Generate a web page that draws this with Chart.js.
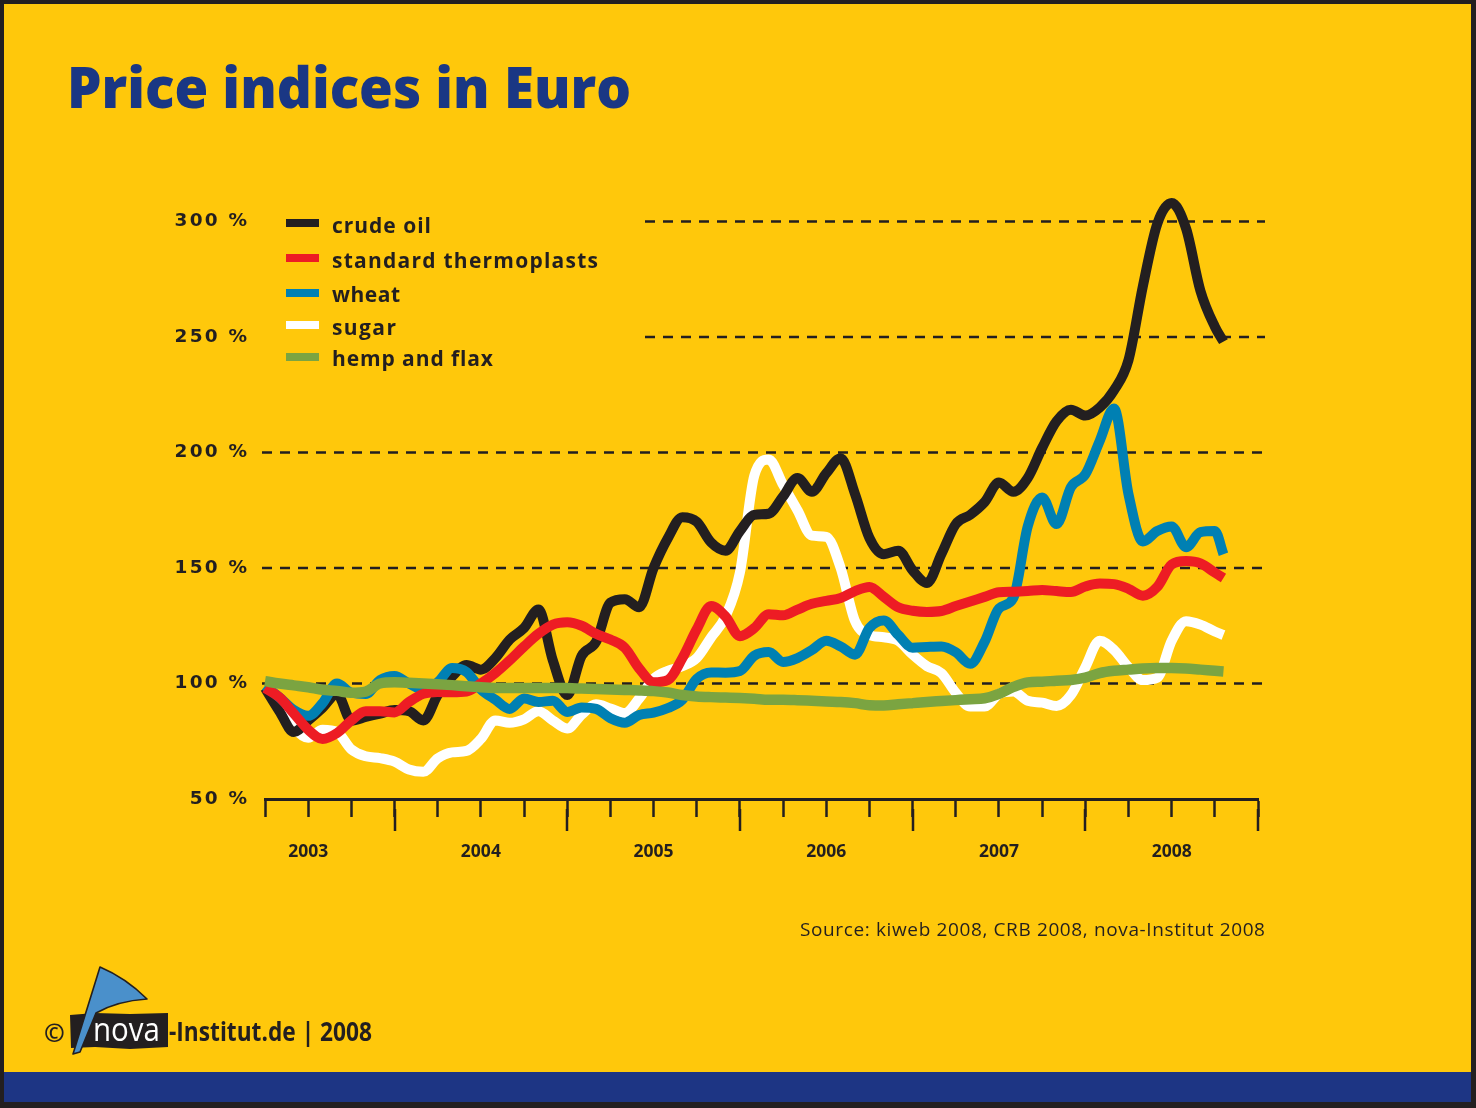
<!DOCTYPE html>
<html>
<head>
<meta charset="utf-8">
<title>Price indices in Euro</title>
<script src="https://cdn.jsdelivr.net/npm/chart.js@4.4.1/dist/chart.umd.min.js"></script>
<style>
html,body{margin:0;padding:0;background:#231f20;width:1476px;height:1108px;overflow:hidden;}
#page{position:absolute;left:0;top:0;width:1476px;height:1108px;background:#231f20;}
#yellow{position:absolute;left:4px;top:4px;width:1467px;height:1068px;background:#FFC80B;}
#navy{position:absolute;left:4px;top:1072px;width:1467px;height:30px;background:#1D3584;}
#chart{position:absolute;left:0;top:0;}
.txt{position:absolute;white-space:nowrap;line-height:1;margin:0;left:0;top:0;}
#title{font-family:'Open Sans';font-weight:800;font-size:57px;color:#1A3784;}
.leg{font-family:'Open Sans';font-weight:700;font-size:21px;color:#231f20;}
.sw{position:absolute;width:33px;height:8px;}
#source{font-family:'Open Sans';font-weight:400;font-size:19px;color:#231f20;}
.foot{font-family:'Open Sans';font-weight:700;color:#231f20;}
#logo{position:absolute;left:0;top:950px;}
</style>
</head>
<body>
<div id="page">
  <div id="yellow"></div>
  <div id="navy"></div>
  <canvas id="chart" width="1476" height="1108"></canvas>
  <div id="title" class="txt">Price indices in Euro</div>
  <div id="legend"></div>
  <div id="source" class="txt">Source: kiweb 2008, CRB 2008, nova-Institut 2008</div>
  <svg id="logo" width="200" height="120" viewBox="0 950 200 120">
    <polygon points="70,1015 95,1013 130,1014 168,1013 168,1047 130,1049 95,1047 71,1048" fill="#231f20"/>
    <path d="M73,1054 L100,967 Q126,978 147,999 Q117,1001 96,1013 L80,1052 Z" fill="#4A90CB" stroke="#231f20" stroke-width="1.6" stroke-linejoin="round"/>
  </svg>
  <div id="copy" class="txt foot" style="font-size:25px">©</div>
  <div id="nova" class="txt" style="font-family:'Open Sans';font-weight:400;font-size:32px;color:#ffffff">nova</div>
  <div id="inst" class="txt foot" style="font-size:27px">-Institut.de | 2008</div>
</div>
<script>
// ---------- data ----------
const months = Array.from({length: 67}, (_, i) => i).concat([66.6]); // months since Jan 2003
const seriesNames = ['crude oil', 'standard thermoplasts', 'wheat', 'sugar', 'hemp and flax'];
const crudeOil = [98,88,79,84,89.5,95.5,84,85.5,87,88.5,88,84,95,103,108,106,111,119,124,132,110,95,112,118,135,136.5,133,150,163,172,170,161,157.5,166,173,173.5,181,189,183,191,197.5,182,163,156,157.5,149,143.5,156,169,173,178.5,187,183,189,202,213.5,218.5,216,219.5,227,240,272,299,308,297,270,254.5,248];
const thermoplasts = [98,94,87,80,76,78.5,84,88,88,87.5,92,95.5,96.3,96.2,96.5,100,104.5,110,116,121.5,125.5,126.5,125,121.5,119,115.5,106.5,100.5,101.5,111,123.5,133.5,129,120.5,124,130,129.5,132,134.5,135.8,137,140,141.8,137.5,133,131.5,131,131.4,133.5,135.5,137.5,139.5,139.7,140,140.5,140,139.6,142,143.3,143,141,138,141.8,151.5,153,152,148,145.7];
const wheat = [99,94,88.5,86,91.5,100,96,95.5,101.5,103.3,100,97.3,100.5,106.7,105,97.5,93,89,93.5,92,92.5,87.7,89.6,89,85,83,86.4,87.4,89.4,93,102,104.8,104.7,105.4,112,113.6,109.3,111,114.5,118.5,116,112.5,124,127.3,121,115.5,115.8,116,113.5,108.5,118,132.5,137,168,180.5,169,185,190.5,205,219,182,161.5,166,168,159,165.5,166,156];
const sugar = [98,91,81,76.5,80,79,71.5,68.5,67.7,66.2,62.8,61.8,67.6,70.2,70.8,76,84,83,84.5,88,84,80.5,86.5,91,89.2,87.2,93.5,102,105.5,107.5,111,120,129,148,190,197,186,175,164,163.5,150,127,121,120,118.5,112.5,107.5,104.5,96,90,90,95.5,96.5,92.5,91.7,90.3,95,107,118.5,114.5,107,101.5,102.5,118.5,127,125.5,122.5,121];
const hempFlax = [101,100,99.2,98.4,97.3,96.8,96,96.5,100,100.5,100.3,100,99.7,99.3,98.8,98.4,98.1,98,98,98,98,98,97.8,97.6,97.4,97.2,97,96.7,96.1,95,94.4,94.1,93.9,93.7,93.4,93,93,92.8,92.5,92.2,92,91.5,90.6,90.5,91,91.5,92,92.4,92.8,93.2,93.6,95.5,98.5,100.5,100.8,101.2,101.5,102.5,104.5,105.5,106,106.5,106.7,106.7,106.5,106,105.5,105.2];
const yGridValues = [100, 150, 200, 250, 300];
const yearLabels = ['2003', '2004', '2005', '2006', '2007', '2008'];
const yearTickMonths = [3, 15, 27, 39, 51, 63];
const bigTickMonths = [9, 21, 33, 45, 57, 69];
const xTickMonths = Array.from({length: 24}, (_, i) => i * 3);

// ---------- styles ----------
const seriesValues = [crudeOil, thermoplasts, wheat, sugar, hempFlax];
const colors = ['#231F20', '#ED1C24', '#0080B3', '#FFFFFF', '#7BA441'];
const widths = [10, 10, 10, 10, 10.5];
const drawOrder = [3, 1, 2, 4, 0]; // lower = drawn on top
const INK = '#231f20';

const deco = {
  id: 'deco',
  beforeDraw(chart) {
    const s = chart.scales.y;
    if (s && !s._lsWrapped) {
      const orig = s.drawLabels.bind(s);
      s.drawLabels = function (area) {
        const ctx = this.ctx; ctx.save(); ctx.letterSpacing = '2.2px'; orig(area); ctx.restore();
      };
      s._lsWrapped = true;
    }
  },
  beforeDatasetsDraw(chart) {
    const {ctx, chartArea, scales: {y}} = chart;
    ctx.save();
    ctx.strokeStyle = INK; ctx.lineWidth = 2.4; ctx.setLineDash([10, 8]);
    yGridValues.forEach(v => {
      const py = y.getPixelForValue(v);
      const x0 = v >= 250 ? 645 : chartArea.left - 3;
      ctx.beginPath(); ctx.moveTo(x0, py); ctx.lineTo(chartArea.right + 7, py); ctx.stroke();
    });
    ctx.restore();
  },
  afterDraw(chart) {
    const {ctx, chartArea, scales: {x}} = chart;
    ctx.save();
    ctx.strokeStyle = INK; ctx.lineWidth = 2.5;
    bigTickMonths.forEach(m => {
      const px = Math.round(x.getPixelForValue(m));
      ctx.beginPath(); ctx.moveTo(px, chartArea.bottom + 10); ctx.lineTo(px, chartArea.bottom + 32); ctx.stroke();
    });
    ctx.restore();
  }
};

const datasets = seriesValues.map((vals, i) => ({
  label: seriesNames[i],
  data: months.map((m, k) => ({x: m, y: vals[k]})),
  borderColor: colors[i],
  backgroundColor: colors[i],
  borderWidth: widths[i],
  order: drawOrder[i],
  clip: false,
  fill: false
}));

new Chart(document.getElementById('chart'), {
  type: 'line',
  data: {datasets},
  options: {
    responsive: false, animation: false, devicePixelRatio: 1,
    layout: {padding: {left: 145, right: 218, top: 221.5, bottom: 249}},
    plugins: {legend: {display: false}, tooltip: {enabled: false}},
    elements: {
      point: {radius: 0, hoverRadius: 0},
      line: {tension: 0.4, cubicInterpolationMode: 'monotone', borderCapStyle: 'butt', borderJoinStyle: 'round'}
    },
    scales: {
      x: {
        type: 'linear', min: 0, max: 69,
        afterBuildTicks: s => { s.ticks = xTickMonths.map(v => ({value: v})); },
        afterFit: s => { s.height = 60; },
        grid: {display: true, drawOnChartArea: false, drawTicks: true, tickLength: 18, tickWidth: 2.5, tickColor: INK, color: INK},
        border: {display: true, width: 3, color: INK},
        ticks: {
          autoSkip: false, maxRotation: 0, padding: 25, color: INK,
          font: {family: 'Open Sans', weight: 'bold', size: 17.5},
          callback: v => { const k = yearTickMonths.indexOf(v); return k >= 0 ? yearLabels[k] : ''; }
        }
      },
      y: {
        min: 50, max: 300,
        afterFit: s => { s.width = 120; },
        grid: {display: false, drawTicks: false},
        border: {display: false},
        ticks: {
          stepSize: 50, padding: 15.8, color: INK,
          font: {family: 'DejaVu Sans', weight: 'bold', size: 18.5},
          callback: v => v + ' %'
        }
      }
    }
  },
  plugins: [deco]
});

// ---------- text placement ----------
function baselineOffset(el) {
  const probe = document.createElement('span');
  probe.style.cssText = 'display:inline-block;width:0;height:0;vertical-align:baseline;';
  el.appendChild(probe);
  const off = probe.getBoundingClientRect().top - el.getBoundingClientRect().top;
  el.removeChild(probe);
  return off;
}
function place(el, left, baseline, target, mode) {
  const w = el.getBoundingClientRect().width;
  if (target && mode === 'scale') {
    el.style.transformOrigin = 'left top';
    el.style.transform = 'scaleX(' + (target / w) + ')';
  } else if (target && mode === 'ls') {
    const n = el.textContent.length;
    el.style.letterSpacing = ((target - w) / (n - 1)) + 'px';
  }
  el.style.left = left + 'px';
  el.style.top = (baseline - baselineOffset(el)) + 'px';
}

place(document.getElementById('title'), 67, 108, 564, 'scale');

const legendRowsY = [223.3, 258.3, 292.7, 325, 356.7];
const legendWidths = [99, 266, 68, 64, 161];
const legend = document.getElementById('legend');
seriesNames.forEach((name, i) => {
  const sw = document.createElement('div');
  sw.className = 'sw';
  sw.style.background = colors[i];
  sw.style.left = '286px';
  sw.style.top = (legendRowsY[i] - 4) + 'px';
  legend.appendChild(sw);
  const t = document.createElement('div');
  t.className = 'txt leg';
  t.textContent = name;
  legend.appendChild(t);
  place(t, 332, legendRowsY[i] + 9.5, legendWidths[i], 'ls');
});

const src = document.getElementById('source');
place(src, 800, 936, 465, 'ls');
place(document.getElementById('copy'), 44, 1042);
place(document.getElementById('nova'), 93, 1041, 67, 'scale');
place(document.getElementById('inst'), 169, 1041, 203, 'scale');
</script>
</body>
</html>
